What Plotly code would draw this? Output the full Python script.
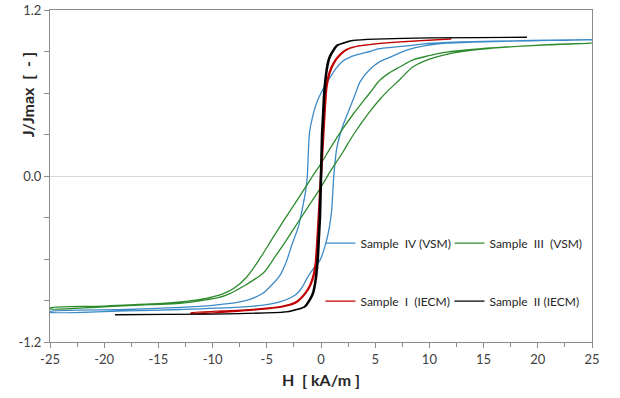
import plotly.graph_objects as go

# ---- data ----
# Sample IV (VSM) - blue
s4_desc_h = [25, 21, 17.7, 14, 11.6, 9.5, 7.9, 6.5, 5.4, 4.5, 3.5, 2.7, 2.0, 1.4, 0.9, 0.5, 0.0, -0.4, -0.8, -1.05,
             -1.15, -1.26, -1.4, -1.63, -2.1, -2.7, -3.2, -3.8, -4.7, -5.4, -6.5, -7.5, -10, -13, -18, -25]
s4_desc_j = [0.985, 0.982, 0.977, 0.972, 0.965, 0.955, 0.94, 0.93, 0.92, 0.90, 0.88, 0.86, 0.83, 0.78, 0.72, 0.67,
             0.60, 0.53, 0.42, 0.32, 0.20, 0.0, -0.10, -0.20, -0.37, -0.50, -0.62, -0.72, -0.80, -0.85, -0.89,
             -0.91, -0.935, -0.95, -0.965, -0.98]
s4_asc_h = [-25, -18, -13, -8, -5, -3.8, -2.8, -2.2, -1.7, -1.3, -0.7, -0.1, 0.4, 0.75, 0.98, 1.1, 1.18, 1.3, 1.45,
            2.0, 2.7, 3.2, 3.6, 4.5, 5.5, 6.4, 7.9, 9.5, 11.6, 14, 17.7, 21, 25]
s4_asc_j = [-0.985, -0.975, -0.965, -0.95, -0.93, -0.91, -0.88, -0.85, -0.80, -0.74, -0.67, -0.61, -0.50, -0.38,
            -0.25, -0.10, 0.0, 0.10, 0.20, 0.36, 0.50, 0.60, 0.68, 0.77, 0.83, 0.86, 0.91, 0.94, 0.96, 0.968,
            0.975, 0.98, 0.985]

# Sample III (VSM) - green
s3_desc_h = [25, 21, 17.7, 14, 11.6, 10, 8.5, 7.3, 6.2, 5.4, 4.5, 3.0, 2.0, 1.0, 0.0, -0.6, -1.5, -2.5, -3.5, -4.55,
             -5.5, -6.85, -8, -9, -11, -13, -15.8, -20, -25]
s3_desc_j = [0.96, 0.95, 0.935, 0.915, 0.895, 0.87, 0.84, 0.79, 0.74, 0.69, 0.60, 0.45, 0.34, 0.22, 0.09, 0.02,
             -0.09, -0.21, -0.33, -0.46, -0.58, -0.73, -0.81, -0.85, -0.89, -0.91, -0.925, -0.94, -0.955]
s3_asc_h = [-25, -20, -15.8, -13, -11, -9.5, -8.4, -7, -6, -5.3, -4.2, -3.16, -2, -1, 0, 0.83, 2, 3.0, 4.5, 5.5,
            6.1, 7.3, 8.5, 10, 11.6, 14, 17.7, 21, 25]
s3_asc_j = [-0.96, -0.945, -0.93, -0.92, -0.90, -0.88, -0.85, -0.79, -0.74, -0.70, -0.58, -0.46, -0.32, -0.20,
            -0.08, 0.03, 0.17, 0.30, 0.465, 0.56, 0.61, 0.70, 0.79, 0.845, 0.88, 0.91, 0.935, 0.948, 0.96]

# Sample I (IECM) - red
s1_desc_h = [12, 7.25, 4.95, 3.45, 2.35, 1.75, 1.15, 0.75, 0.45, 0.25, -0.05, -0.35, -0.55, -0.85, -1.25,
             -1.85, -2.45, -3.55, -5.05, -7.35, -12]
s1_desc_j = [0.99, 0.97, 0.955, 0.94, 0.915, 0.88, 0.82, 0.75, 0.64, 0.42, 0.0, -0.42, -0.64, -0.75, -0.82,
             -0.88, -0.915, -0.94, -0.955, -0.97, -0.99]
s1_asc_h = [-12, -7.25, -4.95, -3.45, -2.35, -1.75, -1.15, -0.75, -0.45, -0.25, 0.05, 0.35, 0.55, 0.85, 1.25,
            1.85, 2.45, 3.55, 5.05, 7.35, 12]
s1_asc_j = [-0.995, -0.975, -0.96, -0.945, -0.92, -0.88, -0.82, -0.75, -0.64, -0.42, 0.0, 0.42, 0.64, 0.75, 0.82,
            0.88, 0.915, 0.94, 0.955, 0.97, 0.99]

# Sample II (IECM) - black
s2_desc_h = [19, 9.94, 4.94, 2.94, 2.14, 1.44, 0.94, 0.69, 0.47, 0.24, 0.14, 0.04, -0.06, -0.16, -0.26, -0.36,
             -0.59, -0.81, -1.06, -1.56, -2.26, -3.06, -5.06, -10.06, -19]
s2_desc_j = [1.003, 0.998, 0.99, 0.98, 0.965, 0.945, 0.89, 0.85, 0.77, 0.60, 0.45, 0.30, 0.0, -0.30, -0.45, -0.60,
             -0.77, -0.85, -0.89, -0.945, -0.965, -0.98, -0.99, -0.998, -1.003]
s2_asc_h = [-19, -9.94, -4.94, -2.94, -2.14, -1.44, -0.94, -0.69, -0.47, -0.24, -0.14, -0.04, 0.06, 0.16, 0.26,
            0.36, 0.59, 0.81, 1.06, 1.56, 2.26, 3.06, 5.06, 10.06, 19]
s2_asc_j = [-1.003, -0.998, -0.99, -0.98, -0.965, -0.945, -0.89, -0.85, -0.77, -0.60, -0.45, -0.30, 0.0, 0.30,
            0.45, 0.60, 0.77, 0.85, 0.89, 0.945, 0.965, 0.98, 0.99, 0.998, 1.003]

x_tickvals = [-25, -20, -15, -10, -5, 0, 5, 10, 15, 20, 25]
x_ticktext = ["-25", "-20", "-15", "-10", "-5", "0", "5", "10", "15", "20", "25"]
y_tickvals = [-1.2, 0.0, 1.2]
y_ticktext = ["-1.2", "0.0", "1.2"]

names = ["Sample\u00a0 IV (VSM)", "Sample\u00a0 III\u00a0 (VSM)", "Sample\u00a0 I\u00a0 (IECM)", "Sample\u00a0 II (IECM)"]
colors = ["#3d8ac8", "#2e8b2e", "#c00000", "#000000"]
smooth = [0.8, 1.0, 0.6, 0.5]
legend_ids = ["legend", "legend2", "legend3", "legend4"]

FONT = "Lato"

fig = go.Figure()
series = [
    (s4_desc_h + s4_asc_h, s4_desc_j + s4_asc_j),
    (s3_desc_h + s3_asc_h, s3_desc_j + s3_asc_j),
    (s1_desc_h + s1_asc_h, s1_desc_j + s1_asc_j),
    (s2_desc_h + s2_asc_h, s2_desc_j + s2_asc_j),
]
for (h, j), name, col, sm, lg in zip(series, names, colors, smooth, legend_ids):
    fig.add_trace(go.Scatter(x=h, y=j, mode="lines", name=name, legend=lg,
                             line=dict(color=col, width=1.3, shape="spline", smoothing=sm)))

axis_common = dict(showline=True, linecolor="#8c8c8c", linewidth=1, mirror=True, automargin=False,
                   ticks="outside", tickcolor="#8c8c8c", ticklen=5,
                   tickfont=dict(family=FONT, size=13, color="#404040"), showgrid=False)

fig.update_xaxes(range=[-25, 25], tickmode="array", tickvals=x_tickvals, ticktext=x_ticktext,
                 zeroline=False,
                 minor=dict(dtick=2.5, tick0=0, ticks="outside", ticklen=4, tickcolor="#8c8c8c", showgrid=False),
                 title=dict(text="<b>H\u00a0 [ kA/m ]</b>", font=dict(family=FONT, size=16, color="#262626"),
                            standoff=9),
                 **axis_common)
fig.update_yaxes(range=[-1.2, 1.2], tickmode="array", tickvals=y_tickvals, ticktext=y_ticktext,
                 zeroline=True, zerolinecolor="#d9d9d9", zerolinewidth=1,
                 minor=dict(dtick=0.3, tick0=0, ticks="outside", ticklen=5, tickcolor="#8c8c8c", showgrid=False),
                 **axis_common)

fig.add_annotation(text="<b>J/Jmax\u00a0 [\u00a0 - ]</b>", xref="paper", yref="paper",
                   x=-0.02, xanchor="right", y=0.745, yanchor="middle", textangle=-90, showarrow=False,
                   font=dict(family=FONT, size=16, color="#262626"))

leg_common = dict(orientation="h", bgcolor="rgba(0,0,0,0)", xanchor="left", yanchor="middle",
                  font=dict(family=FONT, size=12, color="#262626"), itemwidth=30)
fig.update_layout(
    width=620, height=398,
    margin=dict(l=50, r=28, t=10, b=56, autoexpand=False),
    paper_bgcolor="white", plot_bgcolor="white",
    showlegend=True,
    legend=dict(x=0.499, y=0.298, **leg_common),
    legend2=dict(x=0.737, y=0.298, **leg_common),
    legend3=dict(x=0.499, y=0.123, **leg_common),
    legend4=dict(x=0.737, y=0.123, **leg_common),
)

fig.write_html("out.html", config={"displayModeBar": False},
               post_script="document.body.style.margin='0';")
